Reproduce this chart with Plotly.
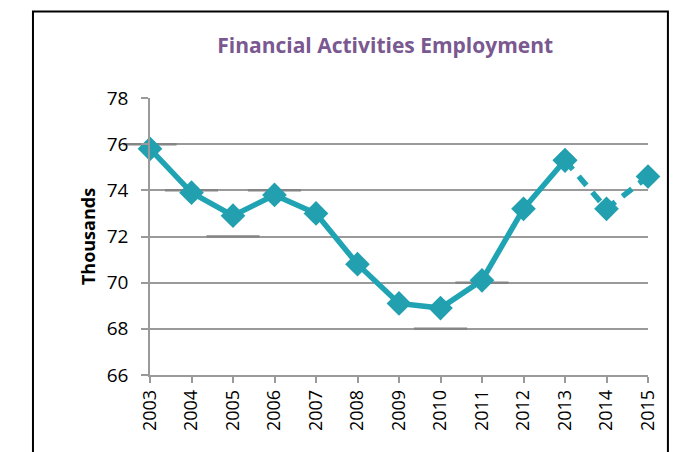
import plotly.graph_objects as go

# Financial activities employment, thousands
years = ["2003", "2004", "2005", "2006", "2007", "2008", "2009",
         "2010", "2011", "2012", "2013", "2014", "2015"]
employment = [75.8, 73.9, 72.9, 73.8, 73.0, 70.8, 69.1,
              68.9, 70.1, 73.2, 75.3, 73.2, 74.6]
# short gray level marks sitting on gridlines
level_marks = [76, 74, 72, 74, None, None, None, 68, 70, None, None, None, None]

y_ticks = [66, 68, 70, 72, 74, 76, 78]

TEAL = "#20A4B4"
GRID = "#9a9a9a"
FONT = "Open Sans"

split = years.index("2013")

fig = go.Figure()

fig.add_trace(go.Scatter(
    x=years, y=level_marks, mode="markers",
    marker=dict(symbol="line-ew", size=38,
                line=dict(color="#858585", width=2.5)),
    hoverinfo="skip", showlegend=False, cliponaxis=False,
))

# solid part of the series
fig.add_trace(go.Scatter(
    x=years[:split + 1], y=employment[:split + 1], mode="lines+markers",
    line=dict(color=TEAL, width=5.5),
    marker=dict(symbol="diamond", size=19, color="#22A0AF"),
    showlegend=False, cliponaxis=False,
))
# dashed projection
fig.add_trace(go.Scatter(
    x=years[split:], y=employment[split:], mode="lines+markers",
    line=dict(color=TEAL, width=5.5, dash="12px,9px"),
    marker=dict(symbol="diamond", size=19, color="#22A0AF"),
    showlegend=False, cliponaxis=False,
))

fig.update_layout(
    width=683, height=452,
    margin=dict(l=150, r=35, t=98, b=77),
    paper_bgcolor="white", plot_bgcolor="white",
    font=dict(family=FONT, color="black"),
    title=dict(text="<b>Financial Activities Employment</b>",
               x=0.564, xanchor="center", y=0.9, yanchor="middle",
               font=dict(size=21, color="#7A5890", family=FONT)),
    xaxis=dict(
        type="category", categoryorder="array", categoryarray=years,
        range=[0, len(years) - 1],
        showgrid=False, showline=True, linecolor=GRID, linewidth=1.5,
        ticks="outside", ticklen=6, tickcolor=GRID, tickwidth=1.5,
        tickangle=-90, tickfont=dict(size=18, family=FONT),
    ),
    yaxis=dict(
        range=[66, 78], tickvals=y_ticks,
        showgrid=True, gridcolor=GRID, gridwidth=1.5,
        showline=True, linecolor=GRID, linewidth=1.5,
        ticks="outside", ticklen=7, tickcolor=GRID, tickwidth=1.5,
        ticklabelstandoff=9,
        tickfont=dict(size=19, family=FONT), zeroline=False,
        title=dict(text="<b>Thousands</b>", font=dict(size=18, family=FONT),
                   standoff=6),
    ),
    shapes=[dict(type="rect", xref="paper", yref="paper",
                 x0=-0.235, x1=1.040, y0=-0.5, y1=1.312,
                 line=dict(color="black", width=2), layer="below")],
)

fig.write_html("out.html")
